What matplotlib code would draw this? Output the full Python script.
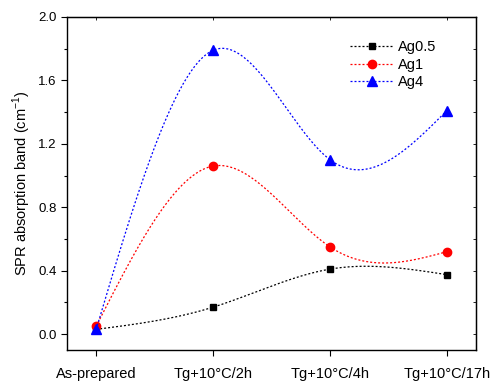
import numpy as np
import matplotlib
matplotlib.use('Agg')
import matplotlib.pyplot as plt

plt.rcParams['font.family'] = ['Liberation Sans', 'DejaVu Sans']
plt.rcParams['font.size'] = 9.5
plt.rcParams['mathtext.fontset'] = 'custom'
plt.rcParams['mathtext.rm'] = 'Liberation Sans'

categories = ['As-prepared', 'Tg+10°C/2h', 'Tg+10°C/4h', 'Tg+10°C/17h']
ag05 = [0.03, 0.17, 0.41, 0.375]
ag1 = [0.05, 1.06, 0.55, 0.52]
ag4 = [0.03, 1.79, 1.10, 1.41]


def natural_spline(x, y, xs):
	# natural cubic spline through (x, y), evaluated at xs
	x = np.asarray(x, float)
	y = np.asarray(y, float)
	n = len(x)
	h = np.diff(x)
	A = np.zeros((n, n))
	b = np.zeros(n)
	A[0, 0] = 1
	A[-1, -1] = 1
	for i in range(1, n - 1):
		A[i, i - 1] = h[i - 1]
		A[i, i] = 2 * (h[i - 1] + h[i])
		A[i, i + 1] = h[i]
		b[i] = 3 * ((y[i + 1] - y[i]) / h[i] - (y[i] - y[i - 1]) / h[i - 1])
	c = np.linalg.solve(A, b)
	out = np.zeros_like(xs)
	for i in range(n - 1):
		m = (xs >= x[i]) & (xs <= x[i + 1])
		bb = (y[i + 1] - y[i]) / h[i] - h[i] * (2 * c[i] + c[i + 1]) / 3
		d = (c[i + 1] - c[i]) / (3 * h[i])
		t = xs[m] - x[i]
		out[m] = y[i] + bb * t + c[i] * t ** 2 + d * t ** 3
	return out


fig = plt.figure(figsize=(4.96, 3.81), dpi=100)
ax = fig.add_axes([0.135, 0.0814, 0.825, 0.874])

x = np.arange(len(categories))
xs = np.linspace(0, len(categories) - 1, 400)
dots = (0, (1.6, 1.6))

series = [(ag05, 'k', 's', 'Ag0.5', 5),
		  (ag1, 'r', 'o', 'Ag1', 6),
		  (ag4, 'b', '^', 'Ag4', 7)]
for vals, col, mk, lab, ms in series:
	ax.plot(xs, natural_spline(x, vals, xs), color=col, ls=dots, lw=0.9)
	ax.plot(x, vals, ls='none', marker=mk, color=col, ms=ms)
	ax.plot([], [], color=col, ls=dots, lw=0.9, marker=mk, ms=ms, label=lab)

ax.set_xlim(-0.25, 3.25)
ax.set_ylim(-0.1, 2.0)
ax.set_xticks(x)
ax.set_xticklabels(categories, fontsize=10.5)
ax.set_yticks([0.0, 0.4, 0.8, 1.2, 1.6, 2.0])
ax.set_yticks(np.arange(0.2, 2.0, 0.4), minor=True)
ax.yaxis.set_major_formatter(plt.FormatStrFormatter('%.1f'))
ax.tick_params(which='both', direction='out', length=4, width=0.8)
ax.tick_params(which='minor', length=2.5)
ax.tick_params(axis='x', pad=8)
ax.set_ylabel('SPR absorption band (cm$^{-1}$)', fontsize=10.5)
ax.yaxis.set_label_coords(-0.082, 0.5)

# small inner ticks on top and right
top = ax.secondary_xaxis('top')
top.set_xticks(x)
top.set_xticklabels([])
top.tick_params(direction='in', length=2, width=0.6)
right = ax.secondary_yaxis('right')
right.set_yticks(np.arange(0.0, 2.01, 0.2))
right.set_yticklabels([])
right.tick_params(direction='in', length=2, width=0.6)

for s in ax.spines.values():
	s.set_linewidth(1.0)

ax.legend(loc='upper right', bbox_to_anchor=(0.935, 0.97), frameon=False,
		  fontsize=10.5, handlelength=3.0, handletextpad=0.3, labelspacing=0.25)

plt.savefig('out.png', dpi=100)
plt.close()
